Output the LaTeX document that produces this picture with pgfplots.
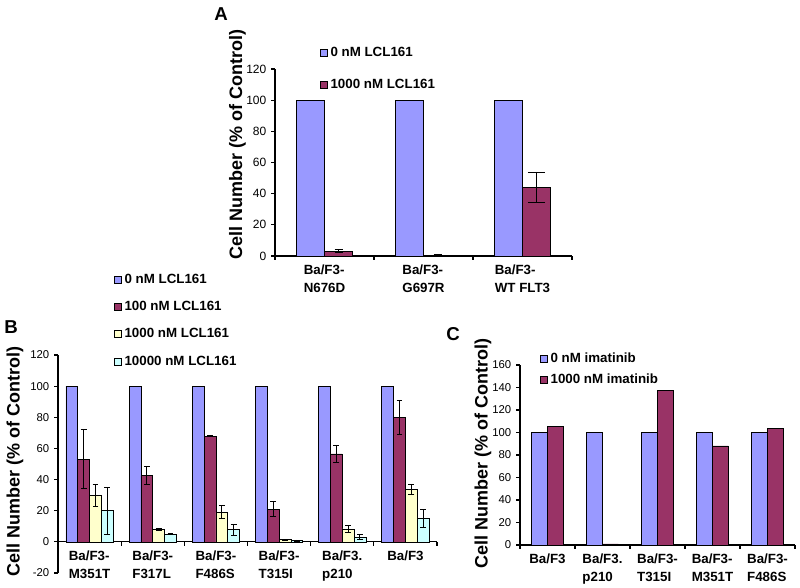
\documentclass[border=0pt]{standalone}
\usepackage{fontspec}
\setmainfont{Liberation Sans}
\usepackage{pgfplots}
\pgfplotsset{compat=1.18}
\definecolor{cblue}{HTML}{9999FF}
\definecolor{cred}{HTML}{993366}
\definecolor{cyel}{HTML}{FFFFCC}
\definecolor{ccya}{HTML}{CCFFFF}
\pgfplotsset{
  sq legend/.style={legend image code/.code={\draw[##1,line width=0.5pt] (0pt,-2.6pt) rectangle (5.2pt,2.6pt);}},
  exc/.style={
    scale only axis, anchor=south west, clip=false,
    axis y line*=left,
    tick align=outside,
    major tick length=3pt,
    axis line style={line width=0.8pt},
    every tick/.style={black, line width=0.8pt},
    x tick label as interval,
    /pgf/number format/assume math mode=true,
    yticklabel style={font=\fontsize{8.5}{10}\selectfont},
    xticklabel style={font=\bfseries\fontsize{10}{13.5}\selectfont, align=left},
    ylabel={Cell Number (\% of Control)},
    every axis y label/.style={rotate=90, anchor=center, font=\bfseries\fontsize{13.5}{16}\selectfont},
    legend style={draw=none, fill=none, font=\bfseries\fontsize{10}{12}\selectfont, anchor=north west, inner sep=0pt, cells={anchor=west}},
    ybar,
  },
  bar/.style={draw=black, line width=0.5pt, fill=#1, sq legend,
    error bars/y dir=both, error bars/y explicit,
    error bars/error bar style={black, line width=0.7pt}},
}
\begin{document}
\begin{tikzpicture}
\path[use as bounding box] (0,0) rectangle (600pt,441pt);

% ---------------- Panel A ----------------
\begin{axis}[exc,
  at={(206.25pt,249pt)}, width=222.75pt, height=140.25pt,
  xmin=-0.5, xmax=2.5, ymin=0, ymax=120,
  axis x line*=bottom,
  ytick={0,20,...,120},
  xtick={-0.5,0.5,1.5,2.5},
  xticklabels={{Ba/F3-\\N676D},{Ba/F3-\\G697R},{Ba/F3-\\WT FLT3}},
  bar width=0.283,
  yticklabel style={font=\fontsize{9}{10}\selectfont},
  every axis y label/.append style={at={(axis description cs:-0.126,0.596)}},
  legend style={at={(axis description cs:0.1515,1.134)}, row sep=12pt},
]
\addplot[bar=cblue, bar shift=-0.1415] coordinates {(0,100) (1,100) (2,100)};
\addlegendentry{0 nM LCL161}
\addplot[bar=cred, bar shift=0.1415, error bars/error mark options={rotate=90, mark size=3pt, black, line width=0.7pt}]
  coordinates {(0,3.2) +- (0,1) (1,0.5) +- (0,0.2)};
\addlegendentry{1000 nM LCL161}
\addplot[bar=cred, bar shift=0.1415, forget plot, error bars/error mark options={rotate=90, mark size=6.5pt, black, line width=0.7pt}]
  coordinates {(2,44.2) +- (0,9.7)};
\end{axis}
\node[font=\bfseries\fontsize{14}{16}\selectfont] at (165.75pt,430.5pt) {A};

% ---------------- Panel B ----------------
\begin{axis}[exc,
  at={(43.5pt,11.25pt)}, width=284.25pt, height=163.5pt,
  xmin=-0.5, xmax=5.5, ymin=-20, ymax=120,
  axis x line*=middle,
  hide obscured x ticks=false, hide obscured y ticks=false,
  ytick={-20,0,...,120},
  xtick={-0.5,0.5,1.5,2.5,3.5,4.5,5.5},
  xticklabels={{Ba/F3-\\M351T},{Ba/F3-\\F317L},{Ba/F3-\\F486S},{Ba/F3-\\T315I},{Ba/F3.\\p210},{Ba/F3}},
  xticklabel style={anchor=north},
  bar width=0.187,
  every axis y label/.append style={at={(axis description cs:-0.1135,0.51)}},
  legend style={at={(axis description cs:0.1478,1.385)}, row sep=8pt},
  every axis plot/.append style={error bars/error mark options={rotate=90, mark size=2.2pt, black, line width=0.7pt}},
]
\addplot[bar=cblue, bar shift=-0.2805] coordinates {(0,100) (1,100) (2,100) (3,100) (4,100) (5,100)};
\addlegendentry{0 nM LCL161}
\addplot[bar=cred, bar shift=-0.0935] coordinates {
  (0,53) +- (0,19) (1,42.6) +- (0,5.7) (2,67.8) +- (0,0.3)
  (3,21) +- (0,5) (4,56.5) +- (0,5.3) (5,80) +- (0,10.8)};
\addlegendentry{100 nM LCL161}
\addplot[bar=cyel, bar shift=0.0935] coordinates {
  (0,30) +- (0,7) (1,7.8) +- (0,0.5) (2,19) +- (0,4.2)
  (3,1.5) +- (0,0.3) (4,8.3) +- (0,2) (5,33.5) +- (0,3.3)};
\addlegendentry{1000 nM LCL161}
\addplot[bar=ccya, bar shift=0.2805] coordinates {
  (0,20) +- (0,15) (1,5) +- (0,0.3) (2,7.8) +- (0,3.5)
  (3,0.8) +- (0,0.4) (4,3) +- (0,1.5) (5,15) +- (0,5.9)};
\addlegendentry{10000 nM LCL161}
\end{axis}
\node[font=\bfseries\fontsize{14}{16}\selectfont] at (8.25pt,195.75pt) {B};

% ---------------- Panel C ----------------
\begin{axis}[exc,
  at={(390pt,32.25pt)}, width=206.25pt, height=135pt,
  xmin=-0.5, xmax=4.5, ymin=0, ymax=160,
  axis x line*=bottom,
  ytick={0,20,...,160},
  xtick={-0.5,0.5,1.5,2.5,3.5,4.5},
  xticklabels={{Ba/F3},{Ba/F3.\\p210},{Ba/F3-\\T315I},{Ba/F3-\\M351T},{Ba/F3-\\F486S}},
  bar width=0.29,
  every axis y label/.append style={at={(axis description cs:-0.135,0.506)}},
  legend style={at={(axis description cs:0.073,1.083)}, row sep=3pt},
]
\addplot[bar=cblue, bar shift=-0.145] coordinates {(0,100) (1,100) (2,100) (3,100) (4,100)};
\addlegendentry{0 nM imatinib}
\addplot[bar=cred, bar shift=0.145] coordinates {(0,105.4) (1,1) (2,137.3) (3,88.1) (4,103.9)};
\addlegendentry{1000 nM imatinib}
\end{axis}
\node[font=\bfseries\fontsize{14}{16}\selectfont] at (339.75pt,190.5pt) {C};
\end{tikzpicture}
\end{document}
